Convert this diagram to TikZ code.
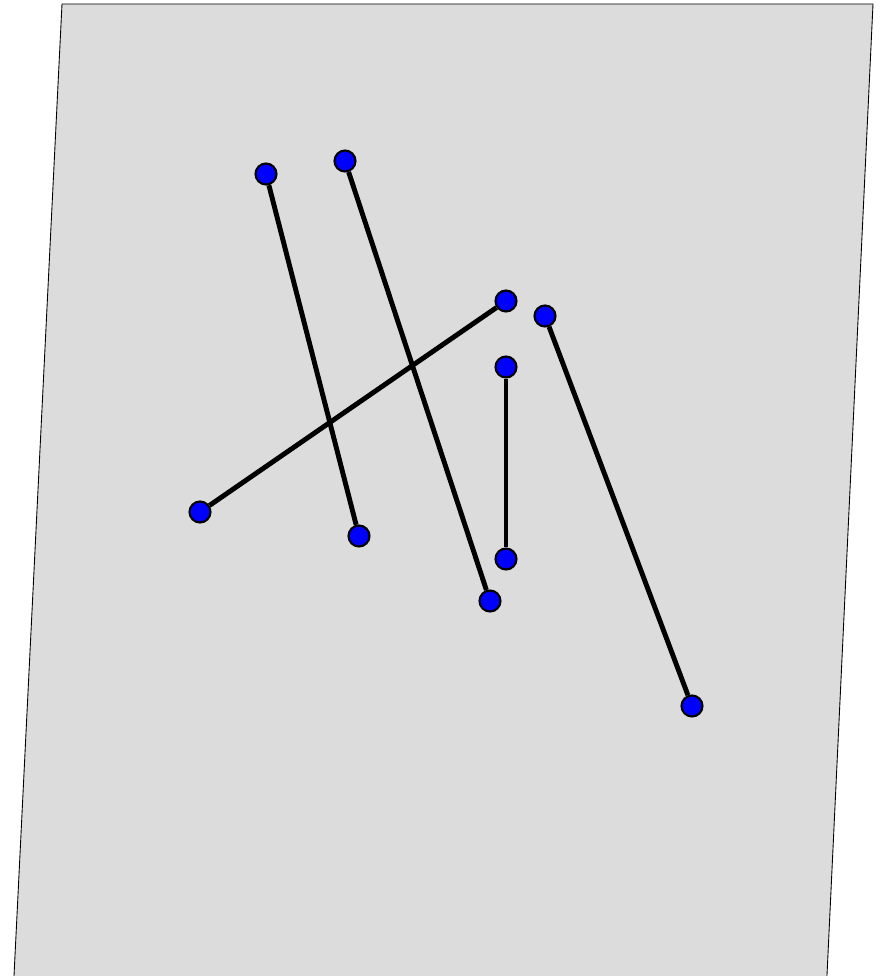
\documentclass[tikz,border=0pt]{standalone}
\definecolor{sheetgray}{HTML}{DCDCDC}
\begin{document}
\begin{tikzpicture}[x=0.02cm,y=-0.02cm,
  endpt/.style={draw=black,line width=1.2pt,fill=blue,circle,inner sep=0pt,minimum size=0.42cm},
  seg/.style={line width=2.8pt}]
  \clip (0,0) rectangle (882,976);
  \fill[sheetgray] (62,4) -- (873,4) -- (826,996) -- (13,996) -- cycle;
  \draw[line width=0.5pt] (13,996) -- (62,4) -- (873,4) -- (826,996);
  \node (a1) at (266,174) [endpt] {};
  \node (a2) at (359,536) [endpt] {};
  \node (b1) at (345,161) [endpt] {};
  \node (b2) at (490,601) [endpt] {};
  \node (c1) at (506,301) [endpt] {};
  \node (c2) at (200,512) [endpt] {};
  \node (d1) at (506,367) [endpt] {};
  \node (d2) at (506,559) [endpt] {};
  \node (e1) at (545,316) [endpt] {};
  \node (e2) at (692,706) [endpt] {};
  \draw [seg] (a1) -- (a2);
  \draw [seg] (b1) -- (b2);
  \draw [seg] (c1) -- (c2);
  \draw [seg] (d1) -- (d2);
  \draw [seg] (e1) -- (e2);
\end{tikzpicture}
\end{document}
